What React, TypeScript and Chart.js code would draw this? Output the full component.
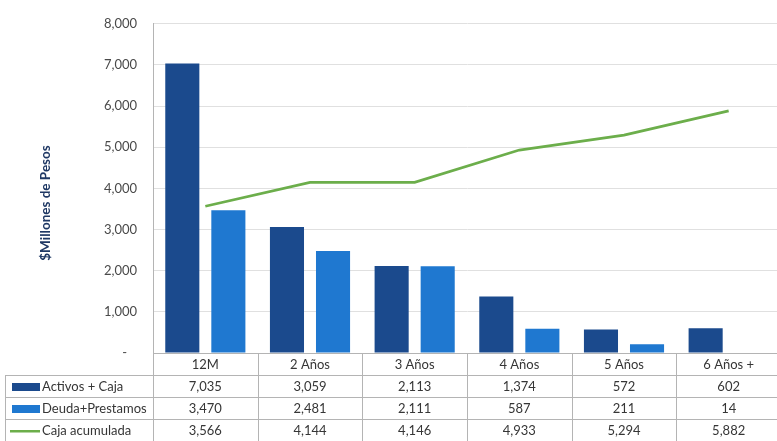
import React, { useEffect, useRef } from "react";
import { Chart, registerables } from "chart.js";

Chart.register(...registerables);

const categories = ["12M", "2 Años", "3 Años", "4 Años", "5 Años", "6 Años +"];
const activosCaja = [7035, 3059, 2113, 1374, 572, 602];
const deudaPrestamos = [3470, 2481, 2111, 587, 211, 14];
const cajaAcumulada = [3566, 4144, 4146, 4933, 5294, 5882];
const seriesNames = ["Activos + Caja", "Deuda+Prestamos", "Caja acumulada"];
const yTitle = "$Millones de Pesos";
const yMax = 8000;
const yStep = 1000;

const DARK = "#1B4A8D";
const LIGHT = "#1F78D0";
const GREEN = "#6CAE4B";
const LINE = "#b4b4b4";
const TEXT = "#363636";
const FONT = "Lato, 'Open Sans', sans-serif";

const fmt = (v: number) => v.toLocaleString("en-US");

const tablePlugin = {
  id: "dataTable",
  afterDraw(chart: any) {
    const ctx = chart.ctx as CanvasRenderingContext2D;
    const xs = chart.scales.x;
    const area = chart.chartArea;
    const W = chart.width;
    const H = chart.height;
    const half = (xs.getPixelForValue(1) - xs.getPixelForValue(0)) / 2;
    const top = Math.round(area.bottom);
    const rowH = 22;
    const rows = [activosCaja, deudaPrestamos, cajaAcumulada];
    const legendLeft = 5;

    ctx.save();
    ctx.strokeStyle = LINE;
    ctx.lineWidth = 1;
    ctx.beginPath();
    ctx.moveTo(area.left, top + 0.5);
    ctx.lineTo(W, top + 0.5);
    for (let k = 1; k <= rows.length; k++) {
      const y = top + rowH * k + 0.5;
      ctx.moveTo(legendLeft, y);
      ctx.lineTo(W, y);
    }
    for (let i = 0; i <= categories.length; i++) {
      const bx = Math.round(xs.getPixelForValue(Math.min(i, categories.length - 1)) + (i === categories.length ? half : -half)) + 0.5;
      ctx.moveTo(bx, top);
      ctx.lineTo(bx, H);
    }
    ctx.moveTo(legendLeft + 0.5, top + rowH);
    ctx.lineTo(legendLeft + 0.5, H);
    ctx.stroke();

    ctx.fillStyle = TEXT;
    ctx.font = `13px ${FONT}`;
    ctx.textAlign = "center";
    ctx.textBaseline = "middle";
    rows.forEach((vals, r) => {
      const cy = top + rowH * (r + 1) + rowH / 2 + 1;
      vals.forEach((v, i) => {
        ctx.fillText(fmt(v), xs.getPixelForValue(i), cy);
      });
    });

    const swatchColors = [DARK, LIGHT, GREEN];
    seriesNames.forEach((name, r) => {
      const cy = top + rowH * (r + 1) + rowH / 2 + 1;
      ctx.fillStyle = swatchColors[r];
      if (r < 2) {
        ctx.fillRect(12, Math.round(cy - 4), 28, 8);
      } else {
        ctx.fillRect(10, Math.round(cy - 1), 30, 2.5);
      }
      ctx.fillStyle = TEXT;
      ctx.textAlign = "left";
      ctx.fillText(name, 42, cy);
    });

    ctx.save();
    ctx.translate(46, 203);
    ctx.rotate(-Math.PI / 2);
    ctx.fillStyle = "#1F3864";
    ctx.font = `bold 13.5px ${FONT}`;
    ctx.textAlign = "center";
    ctx.textBaseline = "middle";
    ctx.fillText(yTitle, 0, 0);
    ctx.restore();

    ctx.restore();
  },
};

export default function App() {
  const ref = useRef<HTMLCanvasElement | null>(null);

  useEffect(() => {
    document.body.style.margin = "0";
    document.body.style.overflow = "hidden";
    const canvas = ref.current;
    if (!canvas) return;
    const chart = new Chart(canvas, {
      type: "bar",
      data: {
        labels: categories,
        datasets: [
          {
            type: "line",
            label: seriesNames[2],
            data: cajaAcumulada,
            borderColor: GREEN,
            backgroundColor: GREEN,
            borderWidth: 2.8,
            pointRadius: 0,
            tension: 0,
            order: 0,
          } as any,
          {
            label: seriesNames[0],
            data: activosCaja,
            backgroundColor: DARK,
            categoryPercentage: 0.88,
            barPercentage: 0.74,
            order: 1,
          },
          {
            label: seriesNames[1],
            data: deudaPrestamos,
            backgroundColor: LIGHT,
            categoryPercentage: 0.88,
            barPercentage: 0.74,
            order: 1,
          },
        ],
      },
      options: {
        responsive: false,
        animation: false,
        devicePixelRatio: 1,
        layout: { padding: { top: 17, right: 4, left: 0, bottom: 0 } },
        plugins: {
          legend: { display: false },
          tooltip: { enabled: false },
        },
        scales: {
          x: {
            grid: { display: false, drawTicks: false },
            border: { display: true, color: LINE },
            ticks: {
              color: TEXT,
              font: { family: FONT, size: 13 },
              padding: 4,
              maxRotation: 0,
              autoSkip: false,
            },
            afterFit: (s: any) => {
              s.height = 88;
            },
          },
          y: {
            min: 0,
            max: yMax,
            grid: { color: "#e0e0e0", drawTicks: false },
            border: { display: true, color: LINE },
            ticks: {
              stepSize: yStep,
              color: "#4a4a4a",
              font: { family: FONT, size: 13 },
              padding: 16,
              callback: (v: any) => (Number(v) === 0 ? "-   " : fmt(Number(v))),
            },
            afterFit: (s: any) => {
              s.width = 153;
            },
          },
        },
      },
      plugins: [tablePlugin],
    });
    return () => chart.destroy();
  }, []);

  return (
    <div style={{ position: "fixed", left: 0, top: 0, width: 777, height: 441, overflow: "hidden", background: "#fff" }}>
      <canvas ref={ref} width={785} height={441} style={{ display: "block", width: 785, height: 441 }} />
    </div>
  );
}
